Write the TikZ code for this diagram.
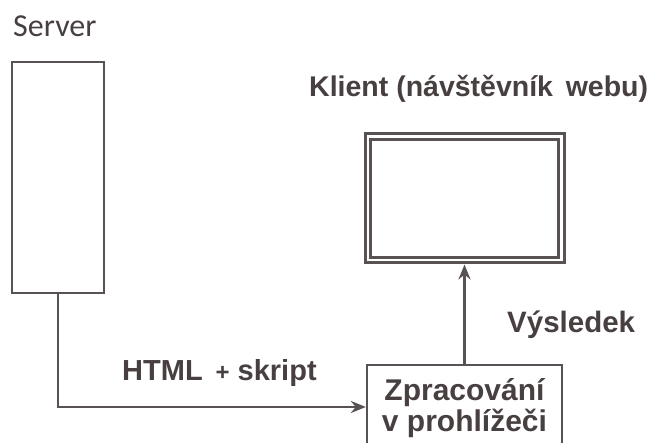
\documentclass[tikz,border=0pt]{standalone}
\usepackage{fontspec}
\setmainfont{Liberation Sans}
\newfontfamily\serverfont{Carlito}
\usetikzlibrary{arrows.meta}
\definecolor{inkline}{RGB}{88,82,82}
\definecolor{inktext}{RGB}{72,64,64}
\tikzset{
  x=1pt, y=-1pt,
  boxline/.style={draw=inkline, line width=2.3pt},
  plainbox/.style={boxline, rectangle, inner sep=0pt},
  label text/.style={inner sep=0pt, text=inktext, anchor=base west},
  arr/.style={draw=inkline, line width=2.3pt, -{Stealth[length=15pt,width=12pt]}},
}
\begin{document}
\begin{tikzpicture}
\useasboundingbox (0,0) rectangle (651,443);
\clip (0,0) rectangle (651,443);

% server column
\node[plainbox, minimum width=92pt, minimum height=231pt] (server) at (58,177.5) {};
\node[label text, font=\serverfont\fontsize{32}{38}\selectfont] (servertitle) at (13,37) {Server};

% client screen with its inner frame
\node[plainbox, line width=3pt, minimum width=199pt, minimum height=129pt] (client) at (464.5,198.5) {};
\draw[boxline] ([shift={(7pt,-7pt)}]client.north west) rectangle ([shift={(-7pt,7pt)}]client.south east);
\node[label text, font=\bfseries\fontsize{28.5}{32}\selectfont] (clienttitle) at (309,97) {Klient (návštěvník\, webu)};

% processing step in the browser (runs off the bottom edge)
\node[plainbox, minimum width=195pt, minimum height=84pt] (proc) at (464.5,407) {};
\node[label text, anchor=base, font=\bfseries\fontsize{30}{31}\selectfont, align=center] (proctext) at (464.5,432) {Zpracování\\v prohlížeči};

% connectors
\draw[arr] (server.south) |- (proc.west);
\draw[arr] (proc.north) -- (client.south);

\node[label text, font=\bfseries\fontsize{29}{34}\selectfont] (htmllabel) at (122,381) {HTML \,{\fontsize{24}{28}\selectfont+} skript};
\node[label text, font=\bfseries\fontsize{29.5}{34}\selectfont] (resultlabel) at (507,333) {Výsledek};
\end{tikzpicture}
\end{document}
